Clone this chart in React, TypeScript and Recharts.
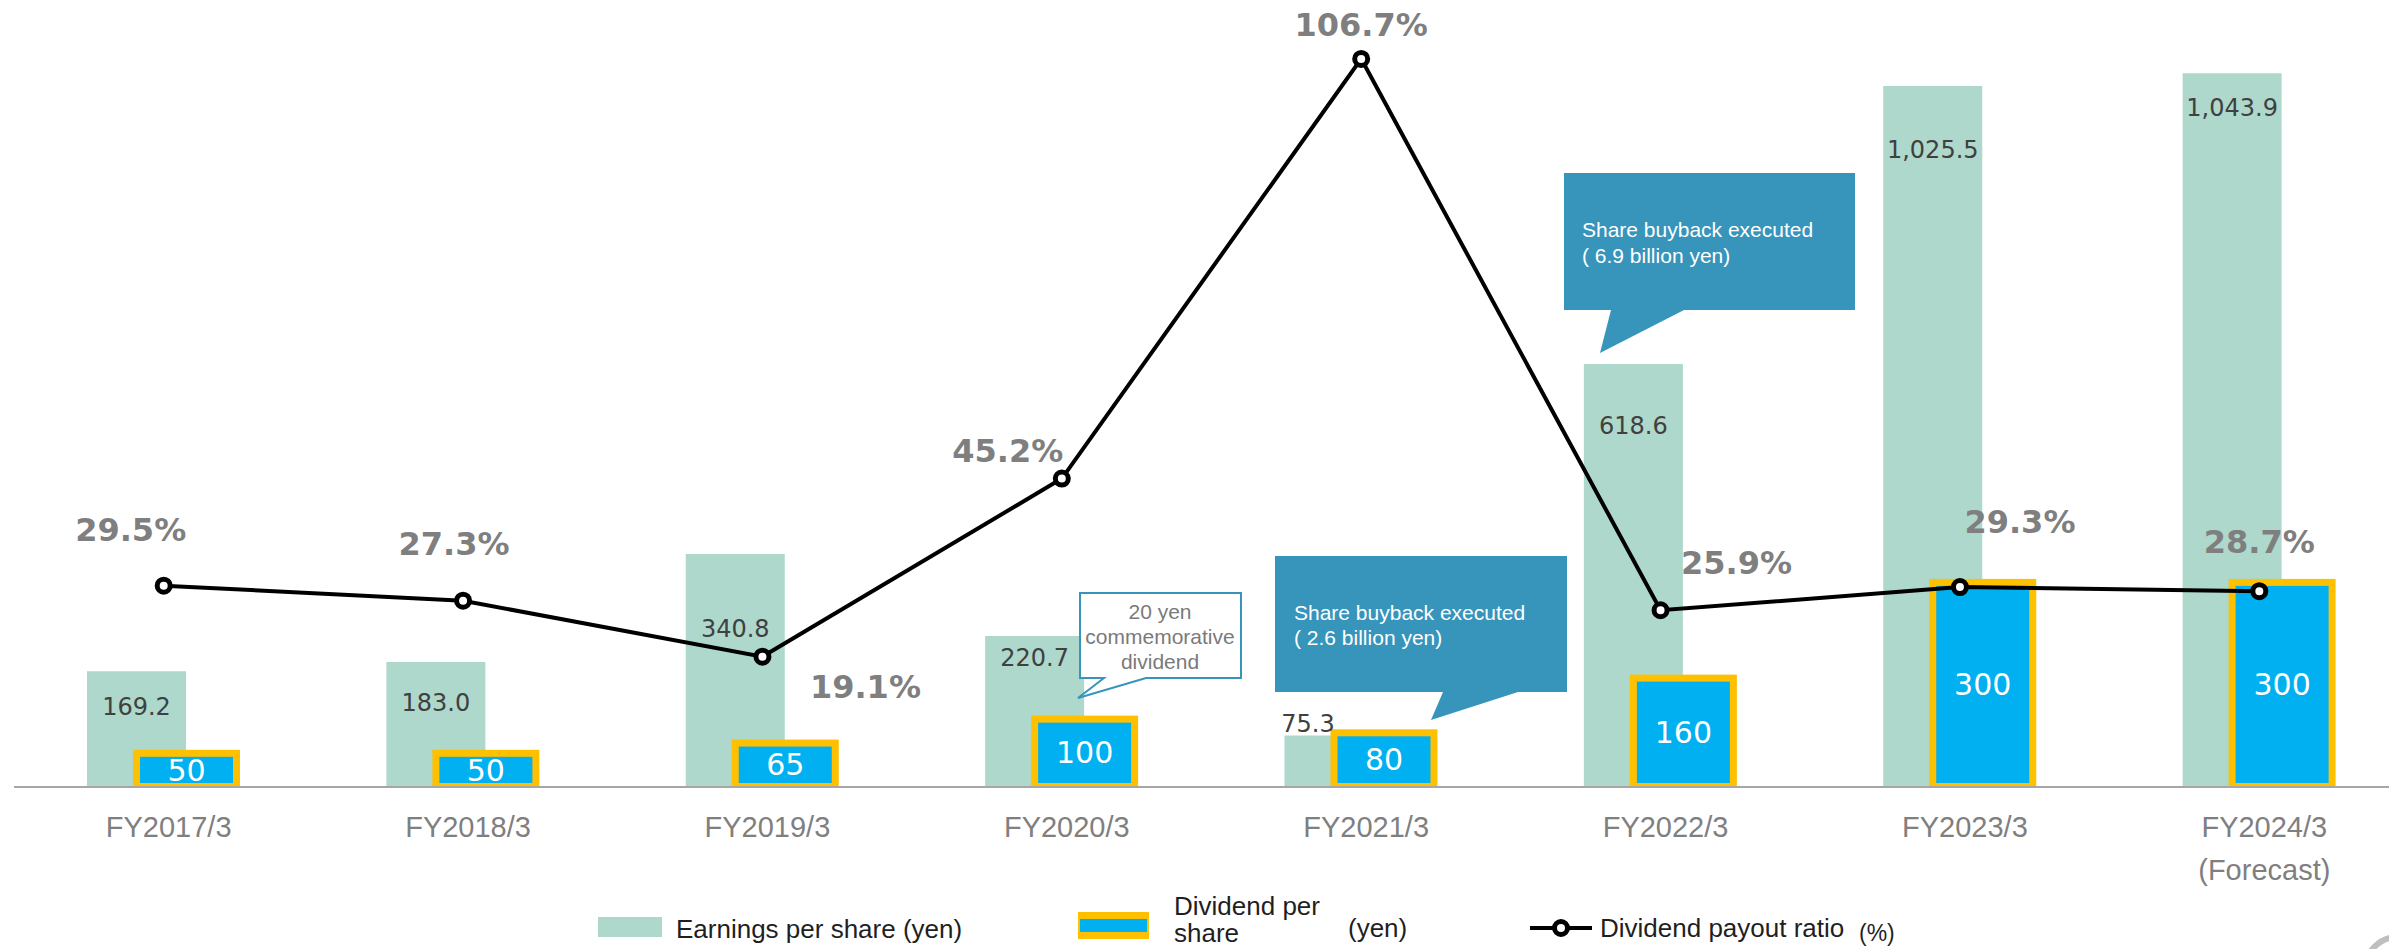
import React from 'react';
import { ComposedChart, Bar, Line, XAxis, YAxis, LabelList, Legend } from 'recharts';

const categories = ['FY2017/3', 'FY2018/3', 'FY2019/3', 'FY2020/3', 'FY2021/3', 'FY2022/3', 'FY2023/3', 'FY2024/3'];
const subLabels = ['', '', '', '', '', '', '', '(Forecast)'];
const eps = [169.2, 183.0, 340.8, 220.7, 75.3, 618.6, 1025.5, 1043.9];
const dividend = [50, 50, 65, 100, 80, 160, 300, 300];
const payoutRatio = [29.5, 27.3, 19.1, 45.2, 106.7, 25.9, 29.3, 28.7];

const data = categories.map((name, i) => ({
  name,
  eps: eps[i],
  dividend: dividend[i],
  ratio: payoutRatio[i],
}));

// hand placed label nudges [dx, dy], same order as categories
const epsLabelShift = [[0, 35], [0, 40], [0, 74], [0, 21], [-26, -13], [0, 61], [0, 63], [0, 34]];
const ratioLabelShift = [[-33, -57], [-9, -58], [103, 29], [-54, -29], [0, -35], [76, -48], [60, -66], [0, -50]];

const EPS_COLOR = '#ADD8CB';
const DIV_FILL = '#00B0F0';
const DIV_BORDER = '#FFC000';
const CALLOUT = '#3794BB';
const SANS = '"Liberation Sans", Arial, sans-serif';
const VERDANA = '"DejaVu Sans", Verdana, sans-serif';

const DividendShape = (props: any) => {
  const { x, y, width, height } = props;
  return (
    <g>
      <rect x={x} y={y - 3} width={width} height={height + 5} fill={DIV_BORDER} />
      <rect x={x + 7} y={y + 4} width={width - 14} height={Math.max(height - 8, 0)} fill={DIV_FILL} />
    </g>
  );
};

const EpsLabel = (props: any) => {
  const vb = props.viewBox || props;
  const i = props.index ?? 0;
  const [dx, dy] = epsLabelShift[i] || [0, 0];
  return (
    <text
      x={vb.x + (vb.width || 0) / 2 + dx}
      y={vb.y + dy + 9}
      textAnchor="middle"
      fontFamily={VERDANA}
      fontSize={24}
      fill="#404040"
    >
      {Number(props.value).toLocaleString('en-US', { minimumFractionDigits: 1, maximumFractionDigits: 1 })}
    </text>
  );
};

const RatioLabel = (props: any) => {
  const vb = props.viewBox || props;
  const i = props.index ?? 0;
  const [dx, dy] = ratioLabelShift[i] || [0, 0];
  return (
    <text
      x={vb.x + dx}
      y={vb.y + dy + 12}
      textAnchor="middle"
      fontFamily={VERDANA}
      fontWeight="bold"
      fontSize={32}
      fill="#7F7F7F"
    >
      {`${Number(props.value).toFixed(1)}%`}
    </text>
  );
};

const CategoryTick = (props: any) => {
  const { x, y, payload } = props;
  const i = categories.indexOf(payload.value);
  return (
    <g>
      <text x={x + 5} y={y + 50} textAnchor="middle" fontFamily={SANS} fontSize={29} fill="#7F7F7F">
        {payload.value}
      </text>
      {subLabels[i] ? (
        <text x={x + 5} y={y + 93} textAnchor="middle" fontFamily={SANS} fontSize={29} fill="#7F7F7F">
          {subLabels[i]}
        </text>
      ) : null}
    </g>
  );
};

const LegendBox = () => (
  <svg width={2389} height={59} style={{ display: 'block' }}>
    <rect x={598} y={27} width={64} height={20} fill={EPS_COLOR} />
    <text x={676} y={48} fontFamily={SANS} fontSize={26} fill="#1F1F1F">Earnings per share (yen)</text>

    <rect x={1078} y={22} width={71} height={27} fill={DIV_BORDER} />
    <rect x={1080} y={29} width={67} height={13} fill={DIV_FILL} />
    <text x={1174} y={25} fontFamily={SANS} fontSize={26} fill="#1F1F1F">Dividend per</text>
    <text x={1174} y={52} fontFamily={SANS} fontSize={26} fill="#1F1F1F">share</text>
    <text x={1348} y={47} fontFamily={SANS} fontSize={26} fill="#1F1F1F">(yen)</text>

    <line x1={1530} y1={38} x2={1592} y2={38} stroke="#000" strokeWidth={4} />
    <circle cx={1561} cy={38} r={6.5} fill="#fff" stroke="#000" strokeWidth={5} />
    <text x={1600} y={47} fontFamily={SANS} fontSize={26} fill="#1F1F1F">Dividend payout ratio</text>
    <text x={1859} y={51} fontFamily={SANS} fontSize={23} fill="#1F1F1F">(%)</text>
  </svg>
);

const Callouts = () => (
  <svg
    width={2389}
    height={949}
    style={{ position: 'absolute', left: 0, top: 0, pointerEvents: 'none' }}
  >
    {/* 20 yen note */}
    <path d="M1080,593 H1241 V678 H1146 L1078,698 L1104,678 H1080 Z" fill="#fff" stroke={CALLOUT} strokeWidth={2} />
    <g fontFamily={SANS} fontSize={21} fill="#7A7A7A" textAnchor="middle">
      <text x={1160} y={619}>20 yen</text>
      <text x={1160} y={644}>commemorative</text>
      <text x={1160} y={669}>dividend</text>
    </g>

    {/* buyback FY2021 */}
    <path d="M1275,556 H1567 V692 H1518 L1431,720 L1443,692 H1275 Z" fill={CALLOUT} />
    <g fontFamily={SANS} fontSize={21} fill="#fff">
      <text x={1294} y={620}>Share buyback executed</text>
      <text x={1294} y={645}>( 2.6 billion yen)</text>
    </g>

    {/* buyback FY2022 */}
    <path d="M1564,173 H1855 V310 H1684 L1600,353 L1611,310 H1564 Z" fill={CALLOUT} />
    <g fontFamily={SANS} fontSize={21} fill="#fff">
      <text x={1582} y={237}>Share buyback executed</text>
      <text x={1582} y={263}>( 6.9 billion yen)</text>
    </g>

    {/* page badge, cut by the slide edge */}
    <circle cx={2398} cy={970} r={33} fill="none" stroke="#BFBFBF" strokeWidth={6} />
  </svg>
);

export default function App() {
  return (
    <div
      style={{
        position: 'absolute',
        left: 0,
        top: 0,
        width: 2389,
        height: 949,
        overflow: 'hidden',
        background: '#fff',
      }}
    >
      <ComposedChart
        width={2420}
        height={949}
        data={data}
        margin={{ top: 35, right: 11, bottom: 102, left: 14 }}
        barGap={-53}
      >
        <XAxis
          dataKey="name"
          interval={0}
          height={60}
          tickSize={0}
          tickMargin={0}
          tickLine={false}
          axisLine={{ stroke: '#A6A6A6', strokeWidth: 2 }}
          tick={<CategoryTick />}
        />
        <YAxis yAxisId="yen" hide domain={[0, 1100]} allowDataOverflow />
        <YAxis yAxisId="pct" orientation="right" hide domain={[0, 110.2]} allowDataOverflow />
        <Legend
          verticalAlign="middle"
          align="center"
          layout="horizontal"
          wrapperStyle={{ left: 0, top: 890, width: 2389, height: 59 }}
          content={() => <LegendBox />}
        />
        <Bar
          yAxisId="yen"
          dataKey="eps"
          name="Earnings per share (yen)"
          fill={EPS_COLOR}
          barSize={99}
          isAnimationActive={false}
        >
          <LabelList dataKey="eps" content={<EpsLabel />} />
        </Bar>
        <Bar
          yAxisId="yen"
          dataKey="dividend"
          name="Dividend per share (yen)"
          fill={DIV_FILL}
          barSize={107}
          shape={<DividendShape />}
          isAnimationActive={false}
        >
          <LabelList dataKey="dividend" position="center" fill="#fff" fontSize={30} fontFamily={VERDANA} />
        </Bar>
        <Line
          yAxisId="pct"
          type="linear"
          dataKey="ratio"
          name="Dividend payout ratio (%)"
          stroke="#000"
          strokeWidth={4}
          dot={{ r: 6.5, fill: '#fff', stroke: '#000', strokeWidth: 5 }}
          activeDot={false}
          isAnimationActive={false}
        >
          <LabelList dataKey="ratio" content={<RatioLabel />} />
        </Line>
      </ComposedChart>
      <Callouts />
    </div>
  );
}
